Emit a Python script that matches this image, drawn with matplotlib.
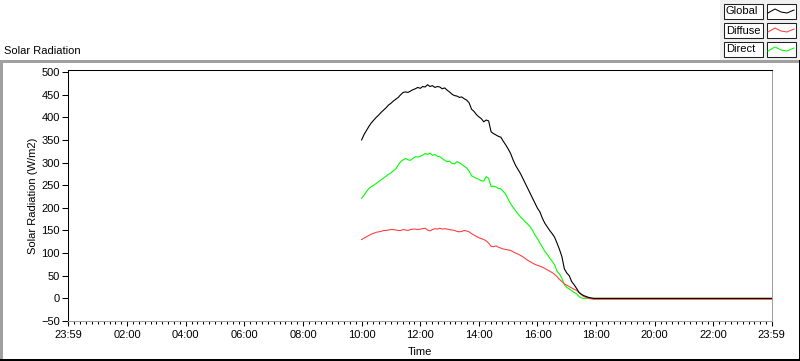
import matplotlib
matplotlib.use("Agg")
import matplotlib.pyplot as plt
import numpy as np
from matplotlib.lines import Line2D
from matplotlib.patches import Rectangle

W, H = 800, 361

# day part, one sample every 5 minutes from 10:00 to 18:00
day_start = 10.0
day_step = 5 / 60

global_day = [
    350, 362, 371, 380, 388, 394, 400, 405, 411, 416, 421, 427,
    431, 436, 440, 444, 450, 455, 456, 455, 458, 461, 463, 466,
    464, 468, 467, 472, 468, 470, 466, 468, 467, 463, 465, 460,
    456, 451, 448, 447, 444, 445, 441, 438, 432, 418, 413, 406,
    401, 397, 390, 394, 392, 368, 364, 361, 358, 356, 347, 339,
    330, 320, 306, 294, 285, 276, 265, 254, 243, 232, 221, 210,
    199, 191, 177, 166, 158, 150, 143, 135, 122, 108, 92, 65,
    56, 50, 37, 30, 22, 13, 9, 6, 4, 2, 1, 0,
    0,
]
diffuse_day = [
    130, 133, 136, 139, 142, 144, 146, 147, 148, 150, 150, 151,
    152, 152, 151, 150, 150, 152, 151, 150, 152, 153, 153, 152,
    153, 154, 155, 151, 149, 152, 154, 153, 155, 153, 154, 153,
    152, 151, 150, 148, 147, 148, 150, 149, 147, 143, 140, 137,
    134, 132, 130, 127, 122, 115, 114, 116, 113, 111, 109, 108,
    107, 106, 103, 100, 98, 95, 92, 88, 84, 81, 78, 75,
    73, 71, 69, 66, 63, 60, 57, 53, 48, 42, 37, 32,
    29, 26, 23, 20, 18, 13, 8, 4, 2, 0, -1, -2,
    -2,
]
direct_day = [
    221, 228, 236, 243, 247, 250, 254, 258, 262, 266, 270, 274,
    277, 282, 286, 295, 302, 306, 309, 306, 305, 309, 313, 312,
    314, 316, 320, 318, 321, 316, 318, 314, 313, 309, 305, 302,
    303, 298, 297, 302, 300, 296, 292, 288, 281, 271, 268, 265,
    263, 260, 259, 269, 265, 247, 248, 246, 243, 242, 236, 230,
    219, 209, 201, 194, 187, 180, 175, 169, 164, 158, 150, 140,
    132, 122, 113, 104, 97, 89, 82, 74, 60, 54, 44, 30,
    24, 21, 17, 13, 10, 4, 1, 0, 0, 0, 0, 0,
    0,
]

# evening part
evening_times = [18.5, 19.0, 19.5, 20.0, 20.5, 21.0, 21.5, 22.0, 22.5, 23.0, 23.5, 23 + 59 / 60]
global_evening = [0, 0, 0, 0, 0, 0, 0, 0, 0, 0, 0, 0]
diffuse_evening = [-2, -2, -2, -2, -2, -2, -2, -2, -2, -2, -2, -2]
direct_evening = [0, 0, 0, 0, 0, 0, 0, 0, 0, 0, 0, 0]

x_tick_pos = [-1 / 60, 2, 4, 6, 8, 10, 12, 14, 16, 18, 20, 22, 23 + 59 / 60]
x_tick_labels = ["23:59", "02:00", "04:00", "06:00", "08:00", "10:00", "12:00",
                 "14:00", "16:00", "18:00", "20:00", "22:00", "23:59"]
y_ticks = [-50, 0, 50, 100, 150, 200, 250, 300, 350, 400, 450, 500]

series_names = ["Global", "Diffuse", "Direct"]
series_colors = ["#000000", "#ff4040", "#00ff00"]
series_z = [4, 3, 2]

plt.rcParams["font.family"] = ["Liberation Sans", "DejaVu Sans"]
plt.rcParams["font.size"] = 8


def fx(px):
    return px / W


def fy(py):
    return 1 - py / H


def fig_line(fig, x0, y0, x1, y1, color):
    fig.add_artist(Line2D([fx(x0), fx(x1)], [fy(y0), fy(y1)], transform=fig.transFigure,
                          color=color, linewidth=0.75, antialiased=False))


def plot():
    fig = plt.figure(figsize=(W / 100, H / 100), dpi=100)
    fig.patch.set_facecolor("white")

    ax = fig.add_axes([fx(68), fy(321), (772 - 68) / W, (321 - 70) / H])

    n = len(global_day)
    day_times = day_start + day_step * np.arange(n)
    times = np.concatenate([day_times, evening_times])
    data = [
        global_day + global_evening,
        diffuse_day + diffuse_evening,
        direct_day + direct_evening,
    ]
    for vals, color, z in zip(data, series_colors, series_z):
        ax.plot(times, vals, color=color, linewidth=0.8, zorder=z)

    ax.set_xlim(-1 / 60, 23 + 59 / 60)
    ax.set_ylim(-50, 504.5)
    ax.set_xticks(x_tick_pos)
    ax.set_xticklabels(x_tick_labels)
    ax.set_xticks(np.arange(0, 24.01, 0.2), minor=True)
    ax.set_yticks(y_ticks)

    ax.tick_params(axis="x", which="major", length=3.8, width=0.75, pad=3)
    ax.tick_params(axis="x", which="minor", length=2.2, width=0.75)
    ax.tick_params(axis="y", which="major", length=4.3, width=0.75, pad=1.5)

    for side in ["left", "top"]:
        ax.spines[side].set_color("black")
    for side in ["right", "bottom"]:
        ax.spines[side].set_color("#a0a0a0")
    for sp in ax.spines.values():
        sp.set_linewidth(0.75)

    ax.set_ylabel("Solar Radiation (W/m2)", va="center")
    ax.yaxis.set_label_coords((33 - 68) / 704, 0.5)
    ax.set_xlabel("Time", va="center")
    ax.xaxis.set_label_coords(0.5, (321 - 352) / 251)

    # title outside the frame
    fig.text(fx(4), fy(51), "Solar Radiation", va="center", ha="left")

    # outer frame
    fig_line(fig, 0, 61, 800, 61, "#a0a0a0")
    fig_line(fig, 0.5, 61, 0.5, 360, "#a0a0a0")
    fig_line(fig, 0, 360, 800, 360, "black")
    fig_line(fig, 799.5, 61, 799.5, 360, "black")

    # legend panel
    fig.patches.append(Rectangle((fx(720), fy(60)), 80 / W, 60 / H, transform=fig.transFigure,
                                 facecolor="#f0f0f0", edgecolor="none"))
    rows = [4, 23, 42]
    for name, color, top in zip(series_names, series_colors, rows):
        fig.patches.append(Rectangle((fx(724), fy(top + 15)), 39 / W, 15 / H,
                                     transform=fig.transFigure, facecolor="white",
                                     edgecolor="#202020", linewidth=0.75))
        fig.patches.append(Rectangle((fx(767), fy(top + 15)), 29 / W, 15 / H,
                                     transform=fig.transFigure, facecolor="white",
                                     edgecolor="#202020", linewidth=0.75))
        fig.text(fx(726), fy(top + 7.5), name, va="center", ha="left")
        zx = [768, 775, 781, 787, 794]
        zy = [top + 9, top + 5, top + 8, top + 9, top + 6]
        fig.add_artist(Line2D([fx(v) for v in zx], [fy(v) for v in zy],
                              transform=fig.transFigure, color=color, linewidth=0.75))

    fig.savefig("out.png", dpi=100)


if __name__ == "__main__":
    plot()
